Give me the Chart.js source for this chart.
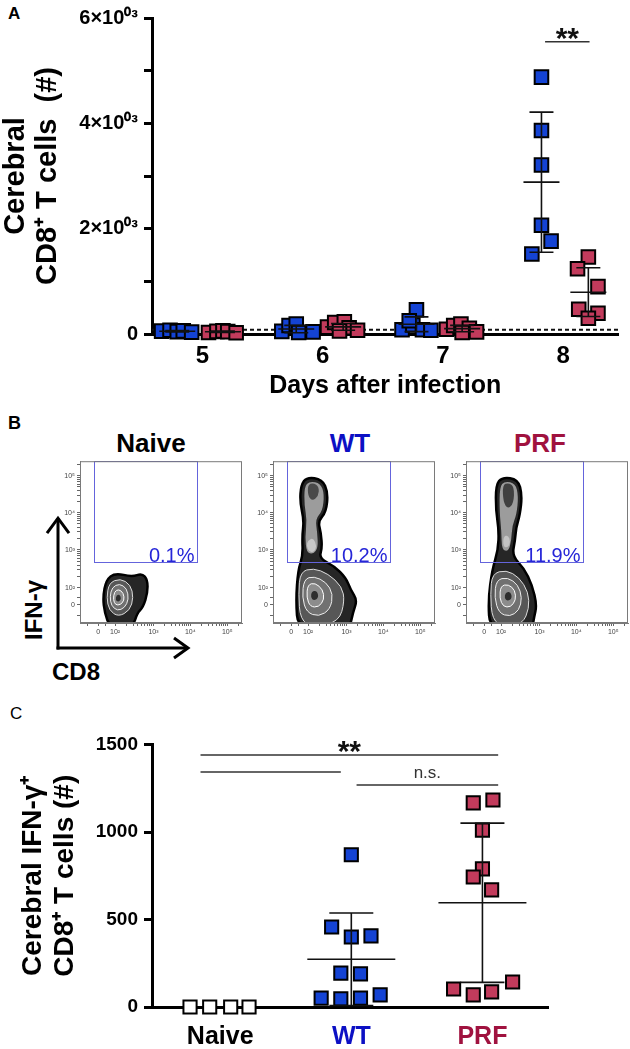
<!DOCTYPE html>
<html><head><meta charset="utf-8">
<script src="https://cdn.jsdelivr.net/npm/chart.js@4.4.1/dist/chart.umd.min.js"></script>
<style>
html,body{margin:0;padding:0;background:#fff;}
body{width:630px;height:1049px;position:relative;overflow:hidden;font-family:'Liberation Sans',Arial,Helvetica,sans-serif;}
canvas{position:absolute;}
.t{position:absolute;white-space:nowrap;line-height:1;}
</style></head><body>
<div class="t" style="left:8px;top:5px;font-size:17px;font-weight:bold;">A</div>
<div class="t" style="left:8px;top:414px;font-size:18px;font-weight:bold;">B</div>
<div class="t" style="left:10px;top:705px;font-size:17px;">C</div>
<div class="t" style="left:151px;top:443px;transform:translate(-50%,-50%);font-size:26px;font-weight:bold;color:#000;">Naive</div>
<div class="t" style="left:350px;top:443px;transform:translate(-50%,-50%);font-size:26px;font-weight:bold;color:#0c10c4;">WT</div>
<div class="t" style="left:540px;top:443px;transform:translate(-50%,-50%);font-size:26px;font-weight:bold;color:#a0123f;">PRF</div>
<div class="t" style="left:34px;top:610px;transform:translate(-50%,-50%) rotate(-90deg);font-size:24px;font-weight:bold;">IFN-γ</div>
<div class="t" style="left:76px;top:672px;transform:translate(-50%,-50%);font-size:24px;font-weight:bold;">CD8</div>

<canvas id="cA" width="630" height="401" style="left:0;top:0"></canvas>
<canvas id="cN" width="244" height="235" style="left:0;top:455px"></canvas>
<canvas id="cW" width="194" height="186" style="left:243px;top:455px"></canvas>
<canvas id="cP" width="194" height="186" style="left:436px;top:455px"></canvas>
<canvas id="cC" width="630" height="349" style="left:0;top:700px"></canvas>

<script>
// ---------------- DATA: panel A ----------------
const days = [5, 6, 7, 8];
const dayLabels = ['5', '6', '7', '8'];
const yTicksA = [0, 1000, 2000, 3000, 4000, 5000, 6000];
const yLabelsA = ['0', '', '2×10⁰³', '', '4×10⁰³', '', '6×10⁰³'];

const wtDay5 = [55, 70, 45, 60, 35];
const wtDay5X = [4.66, 4.73, 4.79, 4.84, 4.91];
const prfDay5 = [30, 50, 60, 45, 25];
const prfDay5X = [5.05, 5.12, 5.17, 5.21, 5.28];
const wtDay6 = [50, 160, 190, 30, 40];
const wtDay6X = [5.66, 5.72, 5.78, 5.80, 5.92];
const prfDay6 = [130, 220, 230, 120, 70, 60];
const prfDay6X = [6.04, 6.10, 6.18, 6.22, 6.29, 6.14];
const wtDay7 = [80, 460, 170, 80, 70, 250];
const wtDay7X = [6.66, 6.78, 6.75, 6.83, 6.90, 6.72];
const prfDay7 = [90, 160, 190, 110, 40, 30];
const prfDay7X = [7.03, 7.09, 7.15, 7.22, 7.28, 7.16];
const wtDay8 = [4878, 3865, 3208, 2064, 1764, 1520];
const wtDay8X = [7.82, 7.82, 7.82, 7.82, 7.90, 7.74];
const prfDay8 = [1463, 1238, 900, 469, 394, 300];
const prfDay8X = [8.21, 8.12, 8.29, 8.13, 8.29, 8.21];

const wtMeanA = [53, 94, 185, 2883];
const wtSdA = [13, 70, 140, 1330];
const wtBarXA = [4.79, 5.78, 6.78, 7.82];
const prfMeanA = [42, 135, 103, 794];
const prfSdA = [14, 65, 60, 463];
const prfBarXA = [5.17, 6.17, 7.16, 8.21];
const limitA = 80;
const sigA = [{x1: 7.85, x2: 8.22, y: 5550, text: '**'}];

// ---------------- DATA: panel C ----------------
const groupsC = ['Naive', 'WT', 'PRF'];
const yTicksC = [0, 500, 1000, 1500];
const naiveC = [0, 0, 0, 0];
const naiveCX = [-0.23, -0.08, 0.08, 0.22];
const wtC = [870, 457, 400, 406, 194, 189, 51, 46, 51, 69];
const wtCX = [1.00, 0.85, 1.00, 1.15, 0.92, 1.07, 0.77, 0.92, 1.07, 1.22];
const prfC = [1166, 1183, 1011, 789, 743, 669, 103, 69, 86, 143];
const prfCX = [1.93, 2.08, 2.00, 2.00, 1.93, 2.07, 1.78, 1.93, 2.07, 2.23];
const meanC = [273, 596];
const sdC = [264, 455];
const barXC = [1, 2];
const sigC = [
  {x1: -0.15, x2: 2.12, y: 1440, text: '**'},
  {x1: -0.15, x2: 0.92, y: 1343, text: ''},
  {x1: 1.04, x2: 2.12, y: 1269, text: 'n.s.'}
];

// ---------------- DATA: panel B (flow plots, biexponential units) ----------------
const flowMajorT = [0, 0.46, 1.5, 2.5, 3.5];
const flowMajorLbl = ['0', '10²', '10³', '10⁴', '10⁵'];
const flowMinorT = [-0.3, 0.2, 0.77, 0.95, 1.08, 1.18, 1.27, 1.34, 1.4, 1.45, 1.8, 1.98, 2.1, 2.2, 2.28, 2.35, 2.4, 2.45, 2.8, 2.98, 3.1, 3.2, 3.28, 3.35, 3.4, 3.45, 3.8];
const gateX = [-0.12, 2.68];
const gateY = [1.16, 3.9];
const gateTexts = ['0.1%', '10.2%', '11.9%'];

const naiveOuter = [[0.22,0.68],[0.46,0.87],[0.92,0.76],[1.19,0.86],[1.34,0.68],[1.34,0.32],[1.22,-0.06],[1.06,-0.22],[0.94,-0.6],[0.32,-0.6],[0.18,-0.22],[0.13,0.21]];
const naiveRing1 = [[0.3,0.6],[0.6,0.72],[0.88,0.55],[0.96,0.2],[0.86,-0.15],[0.55,-0.32],[0.3,-0.15],[0.23,0.2]];
const naiveRing2 = [[0.38,0.48],[0.58,0.58],[0.78,0.45],[0.83,0.15],[0.72,-0.08],[0.52,-0.16],[0.36,-0.02],[0.32,0.22]];
const naiveRing3 = [[0.44,0.36],[0.56,0.43],[0.69,0.32],[0.71,0.12],[0.6,0.0],[0.47,0.0],[0.41,0.14]];
const naiveCore = [[0.5,0.27],[0.59,0.28],[0.63,0.16],[0.55,0.08],[0.47,0.13]];

const wtOuter = [[0.27,3.25],[0.43,3.47],[0.84,3.41],[1.0,3.06],[0.95,2.52],[0.73,2.27],[0.81,1.95],[0.84,1.54],[0.76,1.27],[1.16,1.06],[1.49,0.73],[1.62,0.4],[1.79,0.13],[1.68,-0.19],[1.57,-0.7],[0.19,-0.7],[0.13,0.13],[0.19,0.95],[0.32,1.33],[0.3,1.87],[0.35,2.3],[0.24,2.79]];
const wtStalk = [[0.36,3.2],[0.5,3.36],[0.8,3.3],[0.9,3.0],[0.85,2.55],[0.66,2.33],[0.71,1.95],[0.73,1.55],[0.6,1.38],[0.42,1.42],[0.38,1.85],[0.43,2.3],[0.36,2.7]];
const wtStalkTop = [[0.45,3.25],[0.6,3.32],[0.76,3.2],[0.74,2.95],[0.58,2.82],[0.46,2.95]];
const wtBulb = [[0.45,1.75],[0.6,1.82],[0.7,1.6],[0.62,1.42],[0.48,1.45],[0.42,1.6]];
const wtRing1 = [[0.25,0.9],[0.6,1.0],[1.0,0.85],[1.38,0.5],[1.45,0.1],[1.3,-0.45],[0.6,-0.62],[0.25,-0.4],[0.2,0.3]];
const wtRing2 = [[0.35,0.7],[0.62,0.78],[0.95,0.62],[1.14,0.3],[1.06,-0.12],[0.75,-0.32],[0.42,-0.2],[0.3,0.2]];
const wtRing3 = [[0.45,0.55],[0.65,0.6],[0.86,0.42],[0.9,0.15],[0.75,-0.06],[0.52,-0.05],[0.42,0.2]];
const wtCore = [[0.56,0.37],[0.7,0.39],[0.75,0.2],[0.62,0.11],[0.53,0.2]];

const prfOuter = [[0.32,3.25],[0.49,3.47],[0.92,3.41],[1.03,2.98],[0.97,2.44],[0.87,2.11],[0.84,1.76],[0.76,1.33],[1.08,1.0],[1.3,0.54],[1.43,0.0],[1.35,-0.35],[1.3,-0.7],[0.16,-0.7],[0.11,0.13],[0.22,0.95],[0.38,1.49],[0.4,2.03],[0.32,2.57]];
const prfStalk = [[0.42,3.2],[0.56,3.36],[0.85,3.3],[0.93,2.95],[0.88,2.45],[0.76,2.15],[0.74,1.75],[0.66,1.45],[0.48,1.5],[0.47,2.0],[0.42,2.5]];
const prfStalkTop = [[0.5,3.25],[0.66,3.32],[0.82,3.2],[0.8,2.75],[0.64,2.6],[0.52,2.8]];
const prfBulb = [[0.52,1.85],[0.65,1.9],[0.72,1.7],[0.64,1.55],[0.52,1.58]];
const prfRing1 = [[0.22,0.85],[0.6,0.95],[0.95,0.75],[1.2,0.35],[1.22,-0.1],[1.05,-0.5],[0.55,-0.62],[0.22,-0.4],[0.17,0.3]];
const prfRing2 = [[0.33,0.68],[0.64,0.75],[0.92,0.55],[1.03,0.2],[0.95,-0.15],[0.7,-0.32],[0.4,-0.22],[0.28,0.2]];
const prfRing3 = [[0.45,0.52],[0.66,0.56],[0.84,0.4],[0.86,0.13],[0.72,-0.06],[0.52,-0.05],[0.42,0.18]];
const prfCore = [[0.58,0.34],[0.72,0.36],[0.76,0.18],[0.64,0.1],[0.55,0.18]];

// ---------------- STYLE ----------------
const F = "'Liberation Sans', Arial, Helvetica, sans-serif";
const BLUE = '#1443d4', RED = '#c23b5c';
const BLUE_TXT = '#0c10c4', RED_TXT = '#a0123f';
Chart.defaults.font.family = F;

const xy = (xs, ys) => xs.map((x, i) => ({x: x, y: ys[i]}));
const sq = (fill, r) => ({backgroundColor: fill, borderColor: '#000', borderWidth: 2, pointStyle: 'rect', pointRadius: r, pointHoverRadius: r, clip: false});

// annotation plugin: reference line, mean/SD bars, significance markers
const annot = {
  id: 'annot',
  beforeDatasetsDraw(chart, a, o) {
    if (o.refLine === undefined) return;
    const {ctx, chartArea: c, scales: {y}} = chart;
    const py = y.getPixelForValue(o.refLine);
    ctx.save(); ctx.strokeStyle = '#111'; ctx.lineWidth = 2; ctx.setLineDash([4, 3]);
    ctx.beginPath(); ctx.moveTo(c.left, py); ctx.lineTo(c.right, py); ctx.stroke(); ctx.restore();
  },
  afterDatasetsDraw(chart, a, o) {
    const {ctx, scales: {x, y}} = chart;
    ctx.save(); ctx.strokeStyle = '#111'; ctx.lineWidth = 1.6;
    (o.bars || []).forEach(g => g.x.forEach((xv, i) => {
      const px = x.getPixelForValue(xv);
      const pm = y.getPixelForValue(g.mean[i]);
      const pt = y.getPixelForValue(g.mean[i] + g.sd[i]);
      const pb = y.getPixelForValue(Math.max(0, g.mean[i] - g.sd[i]));
      ctx.beginPath();
      ctx.moveTo(px, pt); ctx.lineTo(px, pb);
      ctx.moveTo(px - o.meanHalf, pm); ctx.lineTo(px + o.meanHalf, pm);
      ctx.moveTo(px - o.capHalf, pt); ctx.lineTo(px + o.capHalf, pt);
      ctx.moveTo(px - o.capHalf, pb); ctx.lineTo(px + o.capHalf, pb);
      ctx.stroke();
    }));
    ctx.strokeStyle = '#333'; ctx.lineWidth = 1.6; ctx.fillStyle = '#111'; ctx.textAlign = 'center'; ctx.textBaseline = 'alphabetic';
    (o.sig || []).forEach(s => {
      const x1 = x.getPixelForValue(s.x1), x2 = x.getPixelForValue(s.x2), py = y.getPixelForValue(s.y);
      ctx.beginPath(); ctx.moveTo(x1, py); ctx.lineTo(x2, py); ctx.stroke();
      if (s.text === '**') { ctx.font = `bold 30px ${F}`; ctx.fillText(s.text, (x1 + x2) / 2, py + 6); }
      else if (s.text) { ctx.font = `17px ${F}`; ctx.fillStyle = '#333'; ctx.fillText(s.text, (x1 + x2) / 2, py - 7); }
    });
    ctx.restore();
  }
};

// ---------------- PANEL A ----------------
new Chart(document.getElementById('cA'), {
  type: 'scatter',
  data: {datasets: [
    {label: 'PRF', data: [...xy(prfDay5X, prfDay5), ...xy(prfDay6X, prfDay6), ...xy(prfDay7X, prfDay7), ...xy(prfDay8X, prfDay8)], ...sq(RED, 9.6)},
    {label: 'WT', data: [...xy(wtDay5X, wtDay5), ...xy(wtDay6X, wtDay6), ...xy(wtDay7X, wtDay7), ...xy(wtDay8X, wtDay8)], ...sq(BLUE, 9.6)}
  ]},
  options: {
    responsive: false, animation: false, events: [],
    layout: {padding: {top: 14, right: 10, left: 0, bottom: 0}},
    plugins: {legend: {display: false}, tooltip: {enabled: false},
      annot: {refLine: limitA, meanHalf: 18, capHalf: 12,
        bars: [{x: wtBarXA, mean: wtMeanA, sd: wtSdA}, {x: prfBarXA, mean: prfMeanA, sd: prfSdA}],
        sig: sigA}},
    scales: {
      x: {type: 'linear', min: 4.58, max: 8.46,
        afterBuildTicks: s => { s.ticks = days.map(v => ({value: v})); },
        afterFit: s => { s.height = 67; },
        ticks: {autoSkip: false, maxRotation: 0, padding: 8, color: '#000', font: {size: 24, weight: 'bold'},
          callback: v => dayLabels[days.indexOf(v)]},
        grid: {display: false, drawTicks: false},
        border: {display: true, color: '#000', width: 3},
        title: {display: true, text: 'Days after infection', color: '#000', font: {size: 25, weight: 'bold', lineHeight: 1.2}, padding: {top: 0, bottom: 0}}
      },
      y: {type: 'linear', min: 0, max: 6000,
        afterBuildTicks: s => { s.ticks = yTicksA.map(v => ({value: v})); },
        afterFit: s => { s.width = 152; },
        ticks: {autoSkip: false, padding: 6, color: '#000', font: {size: 20, weight: 'bold'},
          callback: v => yLabelsA[yTicksA.indexOf(v)]},
        grid: {drawOnChartArea: false, drawTicks: true, tickLength: 8, tickWidth: 3, tickColor: '#000'},
        border: {display: true, color: '#000', width: 3},
        title: {display: true, text: ['Cerebral', 'CD8⁺ T cells  (#)'], color: '#000', font: {size: 29, weight: 'bold', lineHeight: 1.1}, padding: {top: 0, bottom: 0}}
      }
    }
  },
  plugins: [annot]
});

// ---------------- PANEL C ----------------
new Chart(document.getElementById('cC'), {
  type: 'scatter',
  data: {datasets: [
    {label: 'PRF', data: xy(prfCX, prfC), ...sq(RED, 9.3)},
    {label: 'WT', data: xy(wtCX, wtC), ...sq(BLUE, 9.3)},
    {label: 'Naive', data: xy(naiveCX, naiveC), ...sq('#ffffff', 9.3)}
  ]},
  options: {
    responsive: false, animation: false, events: [],
    layout: {padding: {top: 44.5, right: 82, left: 0, bottom: 0}},
    plugins: {legend: {display: false}, tooltip: {enabled: false},
      annot: {meanHalf: 44, capHalf: 22, bars: [{x: barXC, mean: meanC, sd: sdC}], sig: sigC}},
    scales: {
      x: {type: 'linear', min: -0.52, max: 2.5,
        afterBuildTicks: s => { s.ticks = groupsC.map((g, i) => ({value: i})); },
        afterFit: s => { s.height = 42; },
        ticks: {autoSkip: false, maxRotation: 0, padding: 15, font: {size: 25, weight: 'bold'},
          color: c => [ '#000', BLUE_TXT, RED_TXT ][c.index],
          callback: v => groupsC[v]},
        grid: {display: false, drawTicks: false},
        border: {display: true, color: '#000', width: 3}
      },
      y: {type: 'linear', min: 0, max: 1500,
        afterBuildTicks: s => { s.ticks = yTicksC.map(v => ({value: v})); },
        afterFit: s => { s.width = 152; },
        ticks: {autoSkip: false, padding: 6, color: '#000', font: {size: 19, weight: 'bold'}, callback: v => String(v)},
        grid: {drawOnChartArea: false, drawTicks: true, tickLength: 8, tickWidth: 3, tickColor: '#000'},
        border: {display: true, color: '#000', width: 3},
        title: {display: true, text: ['Cerebral IFN-γ⁺', 'CD8⁺ T cells (#)'], color: '#000', font: {size: 28, weight: 'bold', lineHeight: 1.14}, padding: {top: 17, bottom: 0}}
      }
    }
  },
  plugins: [annot]
});

// ---------------- PANEL B ----------------
function smoothClosed(ctx, pts) {
  const n = pts.length;
  const mid = (p, q) => [(p[0] + q[0]) / 2, (p[1] + q[1]) / 2];
  const m0 = mid(pts[n - 1], pts[0]);
  ctx.beginPath(); ctx.moveTo(m0[0], m0[1]);
  for (let i = 0; i < n; i++) {
    const p = pts[i], m = mid(p, pts[(i + 1) % n]);
    ctx.quadraticCurveTo(p[0], p[1], m[0], m[1]);
  }
  ctx.closePath();
}
const flowPlugin = {
  id: 'flow',
  beforeDatasetsDraw(chart, a, o) {
    const {ctx, chartArea: c, scales: {x, y}} = chart;
    ctx.save();
    ctx.beginPath(); ctx.rect(c.left, c.top, c.right - c.left, c.bottom - c.top); ctx.clip();
    o.layers.forEach(L => {
      smoothClosed(ctx, L.pts.map(p => [x.getPixelForValue(p[0]), y.getPixelForValue(p[1])]));
      ctx.fillStyle = L.fill; ctx.fill();
      if (L.stroke) { ctx.lineWidth = L.w; ctx.strokeStyle = L.stroke; ctx.stroke(); }
    });
    ctx.restore();
    ctx.save();
    const gl = Math.round(x.getPixelForValue(gateX[0])) + 0.5, gr = Math.round(x.getPixelForValue(gateX[1])) + 0.5;
    const gt = Math.round(y.getPixelForValue(gateY[1])) + 0.5, gb = Math.round(y.getPixelForValue(gateY[0])) + 0.5;
    ctx.strokeStyle = '#6464dc'; ctx.lineWidth = 1;
    ctx.strokeRect(gl, gt, gr - gl, gb - gt);
    ctx.fillStyle = '#2626d8'; ctx.font = `20px ${F}`; ctx.textAlign = 'right'; ctx.textBaseline = 'alphabetic';
    ctx.fillText(o.text, gr - 3, gb - 1);
    ctx.strokeStyle = '#7a7a7a';
    ctx.strokeRect(c.left + 0.5, c.top + 0.5, c.right - c.left - 1, c.bottom - c.top - 1);
    if (o.arrows) {
      ctx.strokeStyle = '#000'; ctx.lineWidth = 3; ctx.lineCap = 'butt'; ctx.lineJoin = 'miter';
      const ax = c.left - 22, ay = c.bottom + 25;
      ctx.beginPath(); ctx.moveTo(ax, ay + 1.5); ctx.lineTo(ax, c.top + 57); ctx.stroke();
      ctx.beginPath(); ctx.moveTo(ax - 11, c.top + 72); ctx.lineTo(ax, c.top + 57); ctx.lineTo(ax + 11, c.top + 72); ctx.stroke();
      ctx.beginPath(); ctx.moveTo(ax - 1.5, ay); ctx.lineTo(c.left + 108, ay); ctx.stroke();
      ctx.beginPath(); ctx.moveTo(c.left + 94, ay - 10); ctx.lineTo(c.left + 108, ay); ctx.lineTo(c.left + 94, ay + 10); ctx.stroke();
    }
    ctx.restore();
  }
};
const flowTicks = [...flowMajorT, ...flowMinorT].sort((p, q) => p - q);
const flowLabel = v => { const i = flowMajorT.indexOf(v); return i >= 0 ? flowMajorLbl[i] : ''; };
function makeFlow(id, yW, xH, layers, text, arrows) {
  const axis = (isX) => ({
    type: 'linear', min: -0.49, max: 3.9,
    afterBuildTicks: s => { s.ticks = flowTicks.map(v => ({value: v})); },
    afterFit: isX ? (s => { s.height = xH; }) : (s => { s.width = yW; }),
    ticks: {autoSkip: false, maxRotation: 0, padding: 2, color: '#444', font: {size: 7}, callback: flowLabel},
    grid: {drawOnChartArea: false, tickLength: 3, color: '#666', tickWidth: 1},
    border: {display: true, color: '#7a7a7a', width: 1}
  });
  new Chart(document.getElementById(id), {
    type: 'scatter', data: {datasets: []},
    options: {responsive: false, animation: false, events: [],
      layout: {padding: {top: 6, right: 2, left: 0, bottom: 0}},
      plugins: {legend: {display: false}, tooltip: {enabled: false}, flow: {layers: layers, text: text, arrows: arrows}},
      scales: {x: axis(true), y: axis(false)}},
    plugins: [flowPlugin]
  });
}
const rings = (outer, r1, r2, r3, core) => [
  {pts: outer, fill: '#262626', stroke: '#000', w: 2.5},
  {pts: r1, fill: '#575757', stroke: '#dcdcdc', w: 1},
  {pts: r2, fill: '#717171', stroke: '#eeeeee', w: 1},
  {pts: r3, fill: '#8c8c8c', stroke: '#ffffff', w: 1},
  {pts: core, fill: '#2e2e2e'}
];
makeFlow('cN', 80, 67, rings(naiveOuter, naiveRing1, naiveRing2, naiveRing3, naiveCore), gateTexts[0], true);
makeFlow('cW', 30, 18, [
  ...rings(wtOuter, wtRing1, wtRing2, wtRing3, wtCore),
  {pts: wtStalk, fill: '#9c9c9c'}, {pts: wtStalkTop, fill: '#4a4a4a'}, {pts: wtBulb, fill: '#c8c8c8'}
], gateTexts[1], false);
makeFlow('cP', 30, 18, [
  ...rings(prfOuter, prfRing1, prfRing2, prfRing3, prfCore),
  {pts: prfStalk, fill: '#9c9c9c'}, {pts: prfStalkTop, fill: '#404040'}, {pts: prfBulb, fill: '#c4c4c4'}
], gateTexts[2], false);
</script>
</body></html>
